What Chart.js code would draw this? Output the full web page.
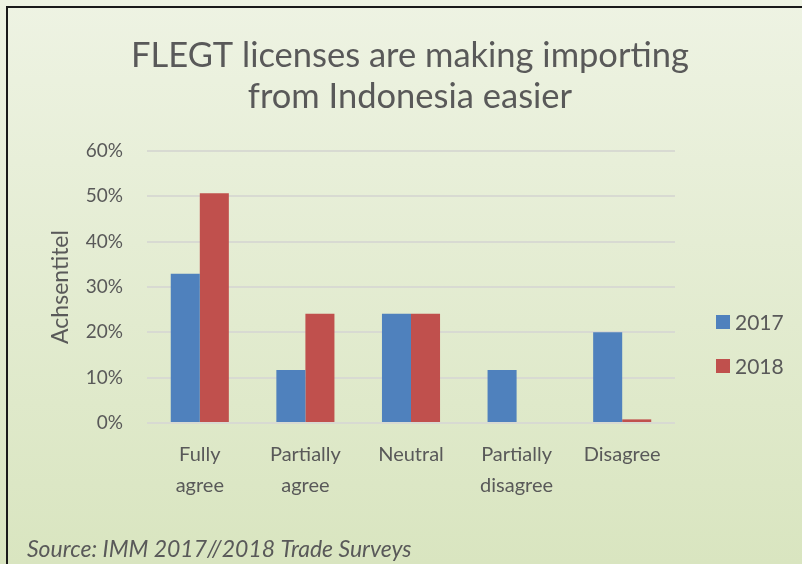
<!DOCTYPE html>
<html>
<head>
<meta charset="utf-8">
<script src="https://cdn.jsdelivr.net/npm/chart.js@4/dist/chart.umd.min.js"></script>
<style>
  html, body { margin: 0; padding: 0; background: #e9f0db; }
  #wrap { width: 802px; height: 564px; position: relative; }
</style>
</head>
<body>
<div id="wrap"><canvas id="chart" width="802" height="564"></canvas></div>
<script>
const categories = [['Fully', 'agree'], ['Partially', 'agree'], 'Neutral', ['Partially', 'disagree'], 'Disagree'];
const values2017 = [32.9, 11.7, 24.1, 11.7, 20.0];
const values2018 = [50.7, 24.1, 24.1, 0, 0.8];
const seriesNames = ['2017', '2018'];
const yTicks = [0, 10, 20, 30, 40, 50, 60];

const TEXT = '#595959';
const FONT = 'Lato, "Open Sans", sans-serif';

// gradient panel, frame, title, legend and footnote
const decor = {
  id: 'decor',
  beforeDraw(chart) {
    const { ctx, width, height } = chart;
    ctx.save();
    const g = ctx.createLinearGradient(0, 0, 0, height);
    g.addColorStop(0, '#eef3e3');
    g.addColorStop(1, '#d9e5c0');
    ctx.fillStyle = g;
    ctx.fillRect(0, 0, width, height);
    ctx.strokeStyle = '#1a1a1a';
    ctx.lineWidth = 2;
    ctx.beginPath();
    ctx.moveTo(7, height + 5);
    ctx.lineTo(7, 7);
    ctx.lineTo(width + 5, 7);
    ctx.stroke();
    ctx.restore();
  },
  afterDraw(chart) {
    const { ctx } = chart;
    ctx.save();
    ctx.fillStyle = TEXT;
    ctx.textAlign = 'center';
    ctx.textBaseline = 'alphabetic';
    ctx.font = '34.5px ' + FONT;
    ctx.fillText('FLEGT licenses are making importing', 410, 67);
    ctx.fillText('from Indonesia easier', 410, 108);

    // legend
    ctx.textAlign = 'left';
    ctx.textBaseline = 'middle';
    ctx.font = '21px ' + FONT;
    chart.data.datasets.forEach((ds, i) => {
      const y = 322 + i * 44;
      ctx.fillStyle = ds.backgroundColor;
      ctx.fillRect(716, y - 7, 14, 14);
      ctx.fillStyle = TEXT;
      ctx.fillText(ds.label, 735, y + 1);
    });

    ctx.font = 'italic 23px ' + FONT;
    ctx.textBaseline = 'alphabetic';
    ctx.fillText('Source: IMM 2017//2018 Trade Surveys', 27, 557);
    ctx.restore();
  }
};

new Chart(document.getElementById('chart'), {
  type: 'bar',
  data: {
    labels: categories,
    datasets: [
      { label: seriesNames[0], data: values2017, backgroundColor: '#4f81bd' },
      { label: seriesNames[1], data: values2018, backgroundColor: '#c0504d' }
    ]
  },
  options: {
    responsive: false,
    animation: false,
    layout: { padding: { left: 40, top: 151, right: 127, bottom: 0 } },
    datasets: { bar: { categoryPercentage: 0.55, barPercentage: 1 } },
    plugins: {
      legend: { display: false },
      title: { display: false },
      tooltip: { enabled: false }
    },
    scales: {
      x: {
        grid: { display: false, drawTicks: false },
        border: { display: false },
        ticks: { color: TEXT, font: { family: FONT, size: 20, lineHeight: 1.55 }, padding: 16, maxRotation: 0, autoSkip: false },
        afterFit: s => { s.height = 141; }
      },
      y: {
        min: 0, max: 60,
        afterBuildTicks: s => { s.ticks = yTicks.map(v => ({ value: v })); },
        grid: { color: '#d8dad2', lineWidth: 2, drawTicks: false },
        border: { display: false },
        ticks: { color: TEXT, font: { family: FONT, size: 19 }, padding: 24, callback: v => v + '%' },
        title: { display: true, text: 'Achsentitel', color: TEXT, font: { family: FONT, size: 23 }, padding: { top: 7, bottom: 0 } },
        afterFit: s => { s.width = 107; }
      }
    }
  },
  plugins: [decor]
});
</script>
</body>
</html>
